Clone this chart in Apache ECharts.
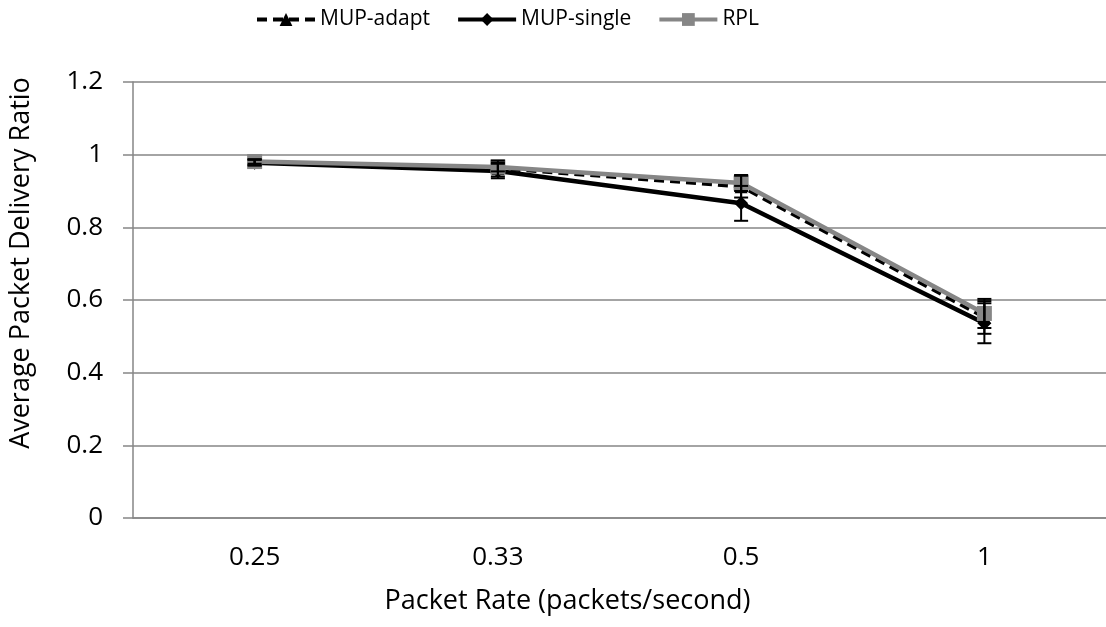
<!DOCTYPE html>
<html>
<head>
<meta charset="utf-8">
<script src="https://cdn.jsdelivr.net/npm/echarts@6/dist/echarts.min.js"></script>
<style>
html,body{margin:0;padding:0;background:#fff;}
#chart{width:1106px;height:627px;}
</style>
</head>
<body>
<div id="chart"></div>
<script>
// 数据
var categories = ['0.25', '0.33', '0.5', '1'];
var adapt = [0.979, 0.962, 0.912, 0.552];
var single = [0.978, 0.955, 0.866, 0.536];
var rpl = [0.981, 0.966, 0.922, 0.563];
var adaptErr = [0.008, 0.022, 0.03, 0.045];
var singleErr = [0.008, 0.02, 0.048, 0.055];
var rplErr = [0.006, 0.012, 0.022, 0.04];
var yTicks = [0, 0.2, 0.4, 0.6, 0.8, 1, 1.2];

var font = 'Open Sans';
var chart = echarts.init(document.getElementById('chart'));

//误差线
function errSeries(vals, errs, color) {
	return {
		type: 'custom',
		z: 5,
		silent: true,
		data: vals.map(function (v, i) { return [i, v - errs[i], v + errs[i]]; }),
		renderItem: function (params, api) {
			var lo = api.coord([api.value(0), api.value(1)]);
			var hi = api.coord([api.value(0), api.value(2)]);
			var w = 7;
			var st = { stroke: color, lineWidth: 2 };
			return {
				type: 'group',
				children: [
					{ type: 'line', shape: { x1: lo[0], y1: lo[1], x2: hi[0], y2: hi[1] }, style: st },
					{ type: 'line', shape: { x1: lo[0] - w, y1: lo[1], x2: lo[0] + w, y2: lo[1] }, style: st },
					{ type: 'line', shape: { x1: hi[0] - w, y1: hi[1], x2: hi[0] + w, y2: hi[1] }, style: st }
				]
			};
		}
	};
}

var option = {
	animation: false,
	textStyle: { fontFamily: font },
	legend: {
		top: 4,
		left: 250,
		itemGap: 26,
		itemWidth: 58,
		itemHeight: 16,
		lineStyle: { width: 4 },
		textStyle: { fontFamily: font, fontSize: 21, color: '#000' },
		data: ['MUP-adapt', 'MUP-single', 'RPL']
	},
	grid: { left: 130, right: 0, top: 82, bottom: 109 },
	xAxis: {
		type: 'category',
		data: categories,
		boundaryGap: true,
		name: 'Packet Rate (packets/second)',
		nameLocation: 'middle',
		nameGap: 70,
		nameTextStyle: { fontSize: 27, color: '#000', fontFamily: font, padding: [0, 104, 0, 0] },
		axisLine: { lineStyle: { color: '#868686', width: 1.5 } },
		axisTick: { length: 10, lineStyle: { color: '#868686', width: 1.5 } },
		axisLabel: { fontSize: 26, color: '#000', margin: 27 }
	},
	yAxis: {
		type: 'value',
		min: yTicks[0],
		max: yTicks[yTicks.length - 1],
		interval: 0.2,
		name: 'Average Packet Delivery Ratio',
		nameLocation: 'middle',
		nameGap: 98,
		nameTextStyle: { fontSize: 27, color: '#000', fontFamily: font, padding: [0, 0, 0, 74] },
		axisLine: { show: true, lineStyle: { color: '#868686', width: 1.5 } },
		axisTick: { show: true, length: 10, lineStyle: { color: '#868686', width: 1.5 } },
		splitLine: { lineStyle: { color: '#868686', width: 1.5 } },
		axisLabel: { fontSize: 26, color: '#000', margin: 30 }
	},
	series: [
		{
			name: 'MUP-adapt',
			type: 'line',
			data: adapt,
			symbol: 'triangle',
			symbolSize: 13,
			itemStyle: { color: '#000' },
			lineStyle: { color: '#000', width: 3.5, type: [10, 6] },
			z: 2
		},
		{
			name: 'MUP-single',
			type: 'line',
			data: single,
			symbol: 'diamond',
			symbolSize: 14,
			itemStyle: { color: '#000' },
			lineStyle: { color: '#000', width: 4.5 },
			z: 3
		},
		{
			name: 'RPL',
			type: 'line',
			data: rpl,
			symbol: 'rect',
			symbolSize: 15,
			itemStyle: { color: '#868686' },
			lineStyle: { color: '#868686', width: 4.5 },
			z: 4
		},
		errSeries(adapt, adaptErr, '#000'),
		errSeries(single, singleErr, '#000'),
		errSeries(rpl, rplErr, '#000')
	]
};
chart.setOption(option);
</script>
</body>
</html>
